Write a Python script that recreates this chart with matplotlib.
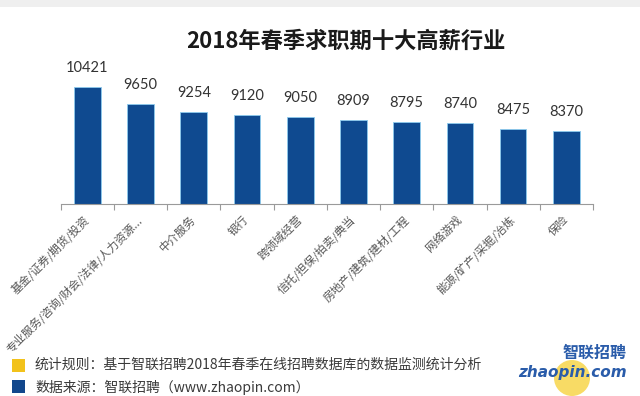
import matplotlib
matplotlib.use("Agg")
import matplotlib.pyplot as plt
from matplotlib.patches import Rectangle, Ellipse

plt.rcParams['font.family'] = ['Noto Sans CJK SC', 'DejaVu Sans']

categories = ["基金/证券/期货/投资", "专业服务/咨询/财会/法律/人力资源...", "中介服务", "银行",
              "跨领域经营", "信托/担保/拍卖/典当", "房地产/建筑/建材/工程", "网络游戏",
              "能源/矿产/采掘/冶炼", "保险"]
salaries = [10421, 9650, 9254, 9120, 9050, 8909, 8795, 8740, 8475, 8370]
title = "2018年春季求职期十大高薪行业"
note1 = "统计规则：基于智联招聘2018年春季在线招聘数据库的数据监测统计分析"
note2 = "数据来源：智联招聘（www.zhaopin.com）"

W, H = 640, 396
fig = plt.figure(figsize=(6.4, 3.96), dpi=100)
fig.patch.set_facecolor("white")

def fx(px):
    return px / W

def fy(py):
    return 1 - py / H

# light gray top band
fig.patches.append(Rectangle((0, fy(7)), 1, 7 / H, transform=fig.transFigure,
                             facecolor="#efefef", edgecolor="none", zorder=0))

ax = fig.add_axes([fx(60.7), fy(204), fx(593) - fx(60.7), fy(74.4) - fy(204)])
x = list(range(len(categories)))
bar_color = "#0f4a90"
ax.bar(x, salaries, width=0.5, color=bar_color, edgecolor="#8ccbee", linewidth=0.6)
ax.set_xlim(-0.5, len(categories) - 0.5)
ax.set_ylim(5000, 11000)

for xi, v in zip(x, salaries):
    ax.annotate(str(v), (xi, v), xytext=(0, 13.5), textcoords="offset points",
                ha="center", va="center", fontsize=10.5, color="#333333",
                family=["Lato", "DejaVu Sans"])

for s in ["top", "right", "left"]:
    ax.spines[s].set_visible(False)
ax.spines["bottom"].set_color("#9a9a9a")
ax.spines["bottom"].set_linewidth(0.8)
ax.set_yticks([])
ax.set_xticks(x)
ax.set_xticklabels(categories, rotation=45, ha="right", va="center",
                   rotation_mode="anchor", fontsize=8.2, color="#555555")
ax.tick_params(axis="x", which="major", length=0, pad=10)
ax.set_xticks([i - 0.5 for i in range(len(categories) + 1)], minor=True)
ax.tick_params(axis="x", which="minor", length=4, color="#9a9a9a", width=0.8)

fig.text(fx(346), fy(41), title, ha="center", va="center", fontsize=16,
         fontweight="bold", color="#1a1a1a")

# legend notes
fig.patches.append(Rectangle((fx(12), fy(372)), 13 / W, 13 / H, transform=fig.transFigure,
                             facecolor="#f2c21b", edgecolor="none"))
fig.patches.append(Rectangle((fx(12), fy(393)), 13 / W, 13 / H, transform=fig.transFigure,
                             facecolor="#12478c", edgecolor="none"))
fig.text(fx(35), fy(365), note1, ha="left", va="center", fontsize=10, color="#3a3a3a")
fig.text(fx(35), fy(387), note2, ha="left", va="center", fontsize=10, color="#3a3a3a")

# logo
fig.patches.append(Ellipse((fx(572), fy(378)), 36 / W, 36 / H, transform=fig.transFigure,
                           facecolor="#f7d54a", edgecolor="none", alpha=0.85))
fig.text(fx(627), fy(353), "智联招聘", ha="right", va="center", fontsize=11.5,
         fontweight="bold", style="italic", color="#2a5caa")
fig.text(fx(572), fy(372), "zhaopin.com", ha="center", va="center", fontsize=11,
         fontweight="bold", style="italic", color="#2a5caa",
         family=["DejaVu Sans"])

fig.savefig("out.png", dpi=100, facecolor="white")
